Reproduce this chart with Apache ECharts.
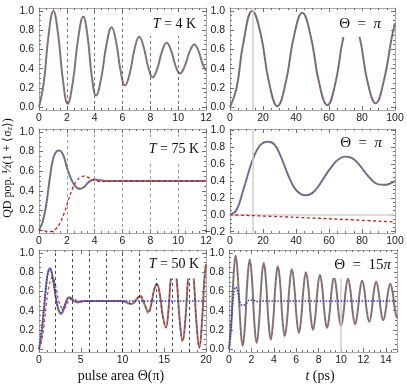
<!DOCTYPE html>
<html><head><meta charset="utf-8">
<script src="https://cdn.jsdelivr.net/npm/echarts@6/dist/echarts.min.js"></script>
<style>html,body{margin:0;padding:0;background:#fff}#c{width:407px;height:387px}</style>
</head><body><div id="c"></div>
<script>
// ---------- Data ----------
// Panel 1: T = 4 K, population vs pulse area
const areaT4 = [0,0.34,0.69,1.03,1.37,1.72,2.06,2.43,2.81,3.18,3.49,3.79,4.1,4.47,4.85,5.22,5.54,5.86,6.18,6.52,6.86,7.2,7.52,7.85,8.17,8.5,8.84,9.17,9.49,9.81,10.13,10.47,10.82,11.16,11.47,11.78,12];
const popT4 = [0,0.25,0.75,1.0,0.76,0.28,0.035,0.26,0.71,0.94,0.735,0.325,0.12,0.30,0.65,0.83,0.68,0.38,0.225,0.35,0.60,0.73,0.625,0.415,0.31,0.40,0.58,0.67,0.59,0.43,0.35,0.425,0.575,0.65,0.58,0.44,0.38];

// Panel 2: Theta = pi, T = 4 K, population vs time (ps)
const timePi4 = [0,4,8,13.5,18.6,23.6,28.7,33.7,38.8,43.8,48.9,53.9,59,63.9,68.8,73.6,78.5,83.4,88.3,93.2,98,100];
const popPi4 = [0,0.2,0.66,1.0,0.76,0.26,0.01,0.25,0.74,0.98,0.74,0.26,0.02,0.25,0.73,0.96,0.73,0.26,0.04,0.27,0.72,0.87];

// Panel 3: T = 75 K
const areaT75 = [0,0.25,0.5,0.75,1.0,1.25,1.46,1.75,2.0,2.25,2.5,2.75,2.95,3.25,3.5,3.75,4.0,4.5,5,6,7,8,9,10,11,12];
const popT75 = [0,0.08,0.24,0.50,0.72,0.80,0.81,0.76,0.64,0.54,0.47,0.43,0.42,0.44,0.48,0.505,0.515,0.505,0.50,0.50,0.50,0.50,0.50,0.50,0.50,0.50];
const areaT75red = [0,0.4,0.8,1.2,1.5,1.8,2.1,2.4,2.7,3.0,3.2,3.5,3.8,4.1,4.5,5,6,8,10,12];
const popT75red = [0,-0.01,-0.015,0.01,0.07,0.17,0.30,0.42,0.50,0.54,0.55,0.54,0.515,0.50,0.495,0.497,0.5,0.5,0.5,0.5];

// Panel 4: Theta = pi, T = 75 K
const timePi75 = [0,4,8,13.5,17,20,23.2,27,31,35,39,42.5,46,50,54,58,62,66,70,74,78,82,86,90,94,97,100];
const popPi75 = [0,0.06,0.29,0.64,0.79,0.85,0.865,0.83,0.68,0.48,0.32,0.25,0.23,0.26,0.35,0.47,0.58,0.66,0.69,0.67,0.60,0.50,0.41,0.36,0.355,0.37,0.40];
const timePi75red = [0,25,50,75,100];
const popPi75red = [0,-0.018,-0.038,-0.06,-0.085];

// Panel 5: T = 50 K
const areaT50 = [0,0.3,0.6,0.9,1.1,1.32,1.6,1.9,2.2,2.45,2.63,2.9,3.2,3.45,3.65,3.9,4.2,4.6,5.0,5.5,6,7,8,9,9.7,10.2,10.6,11.1,11.6,12.1,12.6,13.1,13.43,13.77,14.1,14.47,14.83,15.2,15.5,15.8,16.15,16.5,16.85,17.2,17.53,17.87,18.2,18.53,18.87,19.2,19.5,19.8,20];
const popT50 = [0,0.15,0.42,0.70,0.81,0.84,0.76,0.60,0.45,0.38,0.365,0.40,0.48,0.53,0.54,0.52,0.495,0.485,0.495,0.50,0.50,0.50,0.50,0.50,0.50,0.495,0.48,0.47,0.51,0.55,0.47,0.39,0.46,0.61,0.68,0.57,0.34,0.23,0.40,0.75,0.92,0.71,0.30,0.09,0.31,0.75,0.97,0.73,0.26,0.02,0.26,0.72,0.88];
const areaT50red = [0,0.3,0.6,0.9,1.2,1.5,1.65,1.8,2.1,2.4,2.7,2.9,3.2,3.6,4.0,4.5,5,6,7,8,9,10,10.5,11.1,11.6,12.1,12.6,13.1,13.43,13.77,14.1,14.47,14.83,15.2,15.5,15.8,16.15,16.5,16.85,17.2,17.53,17.87,18.2,18.53,18.87,19.2,19.5,19.8,20];
const popT50red = [0,0.08,0.25,0.48,0.66,0.74,0.75,0.73,0.61,0.49,0.43,0.415,0.44,0.51,0.53,0.505,0.49,0.50,0.50,0.50,0.50,0.50,0.49,0.47,0.50,0.56,0.49,0.37,0.45,0.61,0.67,0.57,0.33,0.22,0.40,0.75,0.92,0.71,0.29,0.08,0.31,0.75,0.97,0.73,0.25,0.01,0.26,0.72,0.88];
const areaT50blue = [0,0.5,1.0,1.3,1.7,2.1,2.6,3.1,3.6,4.1,4.6,5,20];
const popT50blue = [0,0.35,0.75,0.83,0.72,0.5,0.38,0.46,0.53,0.51,0.495,0.5,0.5];

// Panel 6: Theta = 15 pi, T = 50 K
const time15 = [0,0.2,0.39,0.59,0.80,1.01,1.22,1.43,1.64,1.85,2.06,2.26,2.47,2.68,2.89,3.10,3.31,3.52,3.73,3.94,4.15,4.36,4.57,4.77,4.98,5.19,5.40,5.61,5.82,6.03,6.24,6.45,6.66,6.87,7.08,7.29,7.50,7.71,7.91,8.12,8.33,8.54,8.75,8.96,9.17,9.38,9.59,9.79,10.0,10.21,10.42,10.63,10.84,11.05,11.26,11.47,11.68,11.89,12.10,12.31,12.52,12.73,12.93,13.14,13.35,13.56,13.77,13.98,14.19,14.40,14.61,14.82,15.0];
const pop15 = [0,0.24,0.73,0.97,0.736,0.269,0.035,0.259,0.706,0.93,0.714,0.281,0.065,0.273,0.688,0.895,0.696,0.299,0.10,0.29,0.67,0.86,0.679,0.316,0.135,0.309,0.656,0.83,0.665,0.335,0.17,0.328,0.643,0.80,0.65,0.35,0.20,0.343,0.628,0.77,0.633,0.358,0.22,0.353,0.618,0.75,0.623,0.368,0.24,0.363,0.608,0.73,0.613,0.378,0.26,0.373,0.598,0.71,0.604,0.391,0.285,0.389,0.596,0.70,0.60,0.40,0.30,0.395,0.585,0.68,0.588,0.403,0.32];
const time15blue = [0,0.2,0.45,0.6,0.8,1.0,1.2,1.5,1.85,2.2,2.6,3,15];
const pop15blue = [0,0.28,0.6,0.645,0.58,0.48,0.455,0.47,0.51,0.505,0.495,0.5,0.5];

// Reference lines
const pulseMarks12 = [2,4,6,8,10];
const pulseMarks20 = [2,4,6,8,10,12,14,16,18];
const piPulseTime = [13.5];
const markTime15 = [10];

// Tick labels
const areaTicks12 = [0,2,4,6,8,10,12];
const timeTicks100 = [0,20,40,60,80,100];
const areaTicks20 = [0,5,10,15,20];
const timeTicks15 = [0,2,4,6,8,10,12,14];
const popTicks = [0,0.2,0.4,0.6,0.8,1.0];
const popTicksNeg = [-0.2,0,0.2,0.4,0.6,0.8,1.0];

// ---------- Layout / style ----------
const FRAME = '#a8a8a8', TICK = '#707070', LBL = '#222';
const GRAY = '#7e7e7e', RED = '#d01818', BLUE = '#3030d0';
const grids = [
  {left:39, top:8, width:167, height:102},
  {left:230, top:8, width:165, height:102},
  {left:39, top:129, width:167, height:104},
  {left:230, top:129, width:165, height:104},
  {left:39, top:250, width:167, height:102},
  {left:229, top:250, width:168, height:102}
];
function minors(lo, hi, step){const r=[];for(let v=lo; v<=hi+1e-9; v+=step) r.push(Math.round(v*1000)/1000);return r;}
const fmtY = v => (v<0?'\u2212':'') + Math.abs(v).toFixed(1);
const fmtX = v => String(v);
const xAxes = [], yAxes = [];
function addAxes(g, xr, xMaj, xStep, yr, yMaj, yStep){
  const xMin = minors(xr[0], xr[1], xStep), yMin = minors(Math.ceil(yr[0]/yStep)*yStep, yr[1], yStep);
  const base = {gridIndex:g, type:'value', splitLine:{show:false}};
  const lbl = {color:LBL, fontSize:10.5, fontFamily:'Liberation Sans'};
  xAxes.push(Object.assign({}, base, {min:xr[0], max:xr[1], position:'bottom',
    axisLine:{show:true,onZero:false,lineStyle:{color:FRAME,width:1}},
    axisTick:{show:true,inside:true,length:4,customValues:xMaj,lineStyle:{color:TICK}},
    axisLabel:Object.assign({show:true,customValues:xMaj,formatter:fmtX,margin:3}, lbl)}));
  xAxes.push(Object.assign({}, base, {min:xr[0], max:xr[1], position:'bottom',
    axisLine:{show:false,onZero:false}, axisTick:{show:true,inside:true,length:2,customValues:xMin,lineStyle:{color:TICK}}, axisLabel:{show:false}}));
  xAxes.push(Object.assign({}, base, {min:xr[0], max:xr[1], position:'top',
    axisLine:{show:true,onZero:false,lineStyle:{color:FRAME,width:1}}, axisTick:{show:true,inside:true,length:4,customValues:xMaj,lineStyle:{color:TICK}}, axisLabel:{show:false}}));
  xAxes.push(Object.assign({}, base, {min:xr[0], max:xr[1], position:'top',
    axisLine:{show:false,onZero:false}, axisTick:{show:true,inside:true,length:2,customValues:xMin,lineStyle:{color:TICK}}, axisLabel:{show:false}}));
  yAxes.push(Object.assign({}, base, {min:yr[0], max:yr[1], position:'left',
    axisLine:{show:true,onZero:false,lineStyle:{color:FRAME,width:1}},
    axisTick:{show:true,inside:true,length:4,customValues:yMaj,lineStyle:{color:TICK}},
    axisLabel:Object.assign({show:true,customValues:yMaj,formatter:fmtY,margin:5}, lbl)}));
  yAxes.push(Object.assign({}, base, {min:yr[0], max:yr[1], position:'left',
    axisLine:{show:false,onZero:false}, axisTick:{show:true,inside:true,length:2,customValues:yMin,lineStyle:{color:TICK}}, axisLabel:{show:false}}));
  yAxes.push(Object.assign({}, base, {min:yr[0], max:yr[1], position:'right',
    axisLine:{show:true,onZero:false,lineStyle:{color:FRAME,width:1}}, axisTick:{show:true,inside:true,length:4,customValues:yMaj,lineStyle:{color:TICK}}, axisLabel:{show:false}}));
  yAxes.push(Object.assign({}, base, {min:yr[0], max:yr[1], position:'right',
    axisLine:{show:false,onZero:false}, axisTick:{show:true,inside:true,length:2,customValues:yMin,lineStyle:{color:TICK}}, axisLabel:{show:false}}));
}
addAxes(0, [0,12], areaTicks12, 0.5, [-0.03,1.03], popTicks, 0.05);
addAxes(1, [0,100], timeTicks100, 5, [-0.03,1.03], popTicks, 0.05);
addAxes(2, [0,12], areaTicks12, 0.5, [-0.03,1.03], popTicks, 0.05);
addAxes(3, [0,100], timeTicks100, 5, [-0.215,1.015], popTicksNeg, 0.05);
addAxes(4, [0,20], areaTicks20, 1, [-0.03,1.03], popTicks, 0.05);
addAxes(5, [0,15], timeTicks15, 0.5, [-0.03,1.03], popTicks, 0.05);

const series = [];
function pair(xs, ys){return xs.map((x,i)=>[x, ys[i]]);}
function addLine(g, xs, ys, ls, z, extra){
  series.push(Object.assign({type:'line', xAxisIndex:4*g, yAxisIndex:4*g, data:pair(xs,ys),
    showSymbol:false, smooth:0.45, animation:false, silent:true, clip:true, z:z, lineStyle:ls}, extra||{}));
}
function vMarks(g, vals, color, type, width){
  series.push({type:'line', xAxisIndex:4*g, yAxisIndex:4*g, data:[], animation:false, silent:true, z:1,
    markLine:{symbol:'none', silent:true, animation:false, label:{show:false},
      lineStyle:{color:color, type:type, width:width}, data: vals.map(v=>({xAxis:v}))}});
}
function hMarks(g, vals, color, width){
  series.push({type:'line', xAxisIndex:4*g, yAxisIndex:4*g, data:[], animation:false, silent:true, z:1,
    markLine:{symbol:'none', silent:true, animation:false, label:{show:false},
      lineStyle:{color:color, type:'solid', width:width}, data: vals.map(v=>({yAxis:v}))}});
}
const grayLS = {color:GRAY, width:2};
const redLS = {color:RED, width:1, type:[3,2.5], opacity:0.3};
const blueLS = {color:BLUE, width:1.2, type:[1.2,1.6], opacity:0.35};

// Panel 1
vMarks(0, pulseMarks12, '#555', [3,3], 0.8);
addLine(0, areaT4, popT4, grayLS, 3);
addLine(0, areaT4, popT4, redLS, 4);
// Panel 2
vMarks(1, piPulseTime, '#d0d0d0', 'solid', 1.5);
addLine(1, timePi4, popPi4, grayLS, 3);
addLine(1, timePi4, popPi4, redLS, 4);
addLine(1, timePi4, popPi4, blueLS, 4);
// Panel 3
vMarks(2, pulseMarks12, '#8a8a8a', [3,3], 0.8);
addLine(2, areaT75, popT75, grayLS, 3);
addLine(2, areaT75, popT75, Object.assign({}, blueLS, {opacity:0.5}), 4);
addLine(2, areaT75red, popT75red, {color:RED, width:1.3, type:[3,2.5]}, 5);
// Panel 4
vMarks(3, piPulseTime, '#d0d0d0', 'solid', 1.5);
hMarks(3, [0], '#d0d0d0', 1.5);
addLine(3, timePi75, popPi75, grayLS, 3);
addLine(3, timePi75, popPi75, Object.assign({}, blueLS, {opacity:0.6}), 4);
addLine(3, timePi75red, popPi75red, {color:RED, width:1.3, type:[3,2.5]}, 5);
// Panel 5
vMarks(4, pulseMarks20, '#222', [3,3], 0.8);
addLine(4, areaT50, popT50, grayLS, 3);
addLine(4, areaT50red, popT50red, {color:RED, width:1.2, type:[3,2.5], opacity:0.85}, 4);
addLine(4, areaT50blue, popT50blue, {color:BLUE, width:1.5, type:[1.5,1.5]}, 5);
// Panel 6
vMarks(5, markTime15, '#d0d0d0', 'solid', 1.5);
addLine(5, time15, pop15, grayLS, 3);
addLine(5, time15, pop15, Object.assign({}, redLS, {opacity:0.35}), 4);
addLine(5, time15blue, pop15blue, {color:BLUE, width:1.5, type:[1.5,1.5]}, 5);

// ---------- Text ----------
const SERIF = 'Liberation Serif';
function lab(x, y, text, size, rich, pad){
  const r = {};
  for (const k in (rich||{})) r[k] = Object.assign({fontFamily:SERIF, fontSize:size, fill:'#111'}, rich[k]);
  return {type:'text', x:x, y:y, z:100, zlevel:0, silent:true,
    style:{text:text, fontFamily:SERIF, fontSize:size, fill:'#111', align:'right', verticalAlign:'middle',
      backgroundColor:'#fff', padding:pad||[5,3,5,3], rich:r}};
}
const itI = {i:{fontStyle:'italic'}};
const graphic = [
  lab(199, 24, '{i|T} = 4 K', 14, itI),
  lab(385, 24, '\u0398\u2002=\u2002{i|\u03c0}', 15, itI, [6,4,5,6]),
  lab(202, 149, '{i|T} = 75 K', 14, itI),
  lab(385, 143, '\u0398\u2002=\u2002{i|\u03c0}', 15, itI),
  lab(202, 265, '{i|T} = 50 K', 14, itI, [6,3,7,4]),
  lab(394, 265, '\u0398\u2002=\u200215{i|\u03c0}', 15, itI, [6,3,5,3]),
  {type:'text', x:121, y:376, z:100, silent:true, style:{text:'pulse area \u0398(\u03c0)', fontFamily:SERIF, fontSize:14, fill:'#111', align:'center', verticalAlign:'middle'}},
  {type:'text', x:320, y:376, z:100, silent:true, style:{text:'{i|t} (ps)', fontFamily:SERIF, fontSize:14, fill:'#111', align:'center', verticalAlign:'middle', rich:{i:{fontStyle:'italic', fontFamily:SERIF, fontSize:14, fill:'#111'}}}},
  {type:'text', x:8, y:168, rotation:Math.PI/2, z:100, silent:true, style:{text:'QD pop. {f|\u00bd}(1 + \u27e8\u03c3{s|z}\u27e9)', fontFamily:SERIF, fontSize:12, fill:'#111', align:'center', verticalAlign:'middle',
    rich:{f:{fontFamily:SERIF, fontSize:12, fill:'#111'}, s:{fontFamily:SERIF, fontSize:8, fill:'#111', fontStyle:'italic', verticalAlign:'bottom', padding:[4,0,0,0]}}}}
];

const chart = echarts.init(document.getElementById('c'), null, {renderer:'canvas'});
chart.setOption({animation:false, backgroundColor:'#fff', grid:grids, xAxis:xAxes, yAxis:yAxes, series:series, graphic:graphic});
</script></body></html>
